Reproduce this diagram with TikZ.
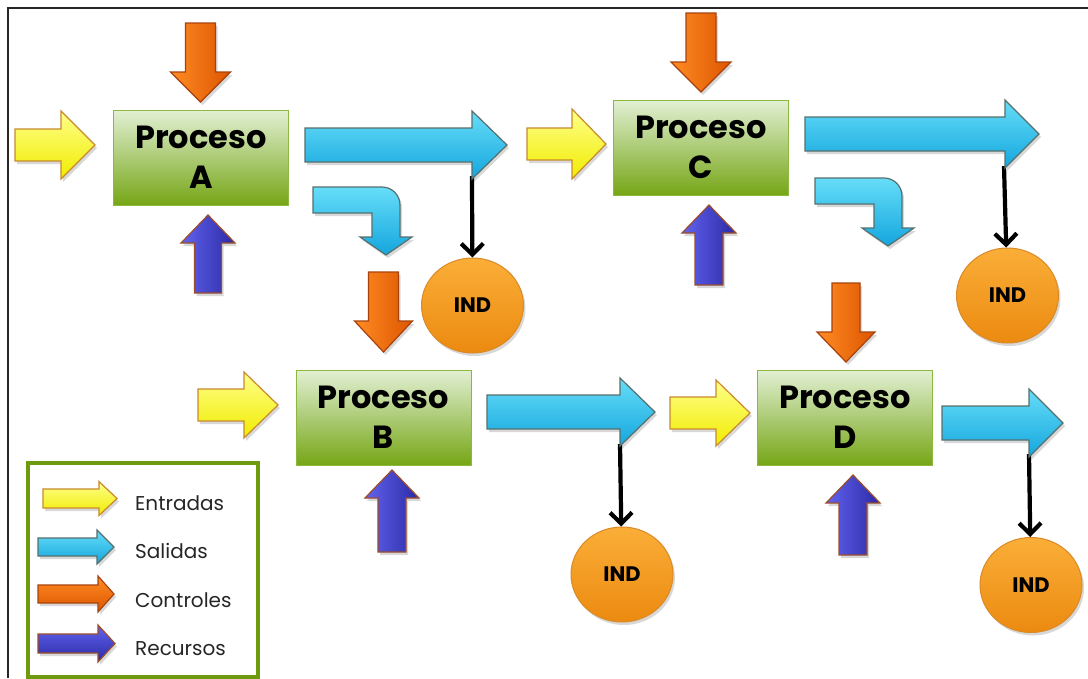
\documentclass[tikz,border=0pt]{standalone}
\usepackage{fontspec}
\setmainfont{Poppins}
\usetikzlibrary{shapes.geometric,shadows,arrows.meta}
\definecolor{yelT}{HTML}{FFFF8A}
\definecolor{yelB}{HTML}{F0EC00}
\definecolor{yelD}{HTML}{C98A2E}
\definecolor{cyaT}{HTML}{66DDF8}
\definecolor{cyaB}{HTML}{14A6DE}
\definecolor{cyaD}{HTML}{56706E}
\definecolor{oraL}{HTML}{FF8C24}
\definecolor{oraR}{HTML}{DD5500}
\definecolor{oraD}{HTML}{A8430E}
\definecolor{bluL}{HTML}{6262EE}
\definecolor{bluR}{HTML}{2A2AA6}
\definecolor{bluD}{HTML}{9A4E2C}
\definecolor{grnT}{HTML}{E2F0D4}
\definecolor{grnB}{HTML}{76A616}
\definecolor{grnD}{HTML}{8DB83E}
\definecolor{legD}{HTML}{6E9A0E}
\definecolor{indT}{HTML}{FAAE38}
\definecolor{indB}{HTML}{EC8A10}
\definecolor{indD}{HTML}{DA8A26}
\newcommand{\rarr}[7]{\path[#1] (#2,#5-#6) -- (#3,#5-#6) -- (#3,#5-#7) -- (#4,#5) -- (#3,#5+#7) -- (#3,#5+#6) -- (#2,#5+#6) -- cycle;}
\newcommand{\varr}[7]{\path[#1] (#2-#6,#3) -- (#2+#6,#3) -- (#2+#6,#4) -- (#2+#7,#4) -- (#2,#5) -- (#2-#7,#4) -- (#2-#6,#4) -- cycle;}
\newcommand{\bentarr}[2]{\path[outarr,shift={(#1,#2)}] (313,187) -- (382,187) to[out=0,in=90] (400,205) -- (400,237) -- (412,237) -- (386,255) -- (360,237) -- (372,237) -- (372,213) -- (313,213) -- cycle;}
\tikzset{
 shad/.style={drop shadow={opacity=.3,shadow xshift=2pt,shadow yshift=-3pt}},
 inarr/.style={shad,draw=yelD,line width=1.2pt,top color=yelT,bottom color=yelB},
 outarr/.style={shad,draw=cyaD,line width=1.2pt,top color=cyaT,bottom color=cyaB},
 ctlarr/.style={shad,draw=oraD,line width=1.2pt,left color=oraL,right color=oraR},
 resarr/.style={shad,draw=bluD,line width=1.2pt,left color=bluL,right color=bluR},
 ctlH/.style={shad,draw=oraD,line width=1.2pt,top color=oraL,bottom color=oraR},
 resH/.style={shad,draw=bluD,line width=1.2pt,top color=bluL,bottom color=bluR},
 proc/.style={draw=grnD,line width=1pt,top color=grnT,bottom color=grnB,minimum width=175pt,minimum height=95pt,align=center,inner sep=0pt,font=\bfseries\fontsize{32}{40}\selectfont},
 ind/.style={ellipse,shad,draw=indD,line width=1pt,top color=indT,bottom color=indB,minimum width=102pt,minimum height=95pt,inner sep=0pt,font=\bfseries\fontsize{21}{25}\selectfont},
 conn/.style={line width=4.2pt,-{Straight Barb[length=11pt,width=22pt]}},
 legtext/.style={anchor=base west,inner sep=0pt,font=\fontsize{20}{24}\selectfont,text=black!85}
}
\begin{document}
\begin{tikzpicture}[x=1pt,y=-1pt]
\useasboundingbox (0,0) rectangle (1088,678);
\fill[white] (0,0) rectangle (1088,678);
\draw[line width=1.6pt,black!85] (8,678) -- (8,8) -- (1088,8);

% process boxes
\node[proc] (pA) at (201,157.5) {Proceso\\A};
\node[proc] (pC) at (701,147.5) {Proceso\\C};
\node[proc] (pB) at (383.5,417.5) {Proceso\\B};
\node[proc] (pD) at (845,417.5) {Proceso\\D};

% indicators
\node[ind] (iA) at (472.5,305.5) {IND};
\node[ind] (iC) at (1007.5,295.5) {IND};
\node[ind] (iB) at (622,574.5) {IND};
\node[ind] (iD) at (1031,585) {IND};

% connectors
\coordinate (oA) at (472,176);
\coordinate (oC) at (1004,166);
\coordinate (oB) at (620,444);
\coordinate (oD) at (1029,454);
\draw[conn] (oA) -- (iA);
\draw[conn] (oC) -- (iC);
\draw[conn] (oB) -- (iB);
\draw[conn] (oD) -- (iD);

% inputs
\rarr{inarr}{15}{61}{95}{145}{16}{34}
\rarr{inarr}{527}{572}{606}{144}{16}{35}
\rarr{inarr}{198}{244}{278}{405}{16}{33}
\rarr{inarr}{670}{716}{750}{413}{16}{33}

% outputs
\rarr{outarr}{305}{472}{507}{145}{17}{34}
\rarr{outarr}{805}{1005}{1039}{134}{17}{34}
\rarr{outarr}{487}{620}{655}{412}{17}{34}
\rarr{outarr}{942}{1029}{1063}{423}{17}{34}
\bentarr{0}{0}
\bentarr{502}{-9}

% controls
\varr{ctlarr}{200.5}{23}{72}{102}{15}{30}
\varr{ctlarr}{701}{13}{62}{92}{15}{30}
\varr{ctlarr}{383.5}{272}{321}{352}{15}{29}
\varr{ctlarr}{846}{283}{332}{362}{14}{29}

% resources
\varr{resarr}{208}{293}{243}{215}{13.5}{27}
\varr{resarr}{709}{285}{233}{205}{14}{27}
\varr{resarr}{392}{552}{498}{470}{14}{27}
\varr{resarr}{853}{555}{503}{475}{14}{27}

% legend
\draw[draw=legD,line width=4pt,fill=white] (28,463) rectangle (258,677);
\rarr{inarr}{43}{99}{117}{498.5}{9.5}{17}
\rarr{outarr}{38}{97}{114}{547}{9}{17}
\rarr{ctlH}{38}{98}{114}{594}{9}{18}
\rarr{resH}{38}{98}{115}{643.5}{9.5}{18.5}
\node[legtext] (lE) at (135,510) {Entradas};
\node[legtext] (lS) at (135,558) {Salidas};
\node[legtext] (lC) at (135,607) {Controles};
\node[legtext] (lR) at (135,655) {Recursos};
\end{tikzpicture}
\end{document}
